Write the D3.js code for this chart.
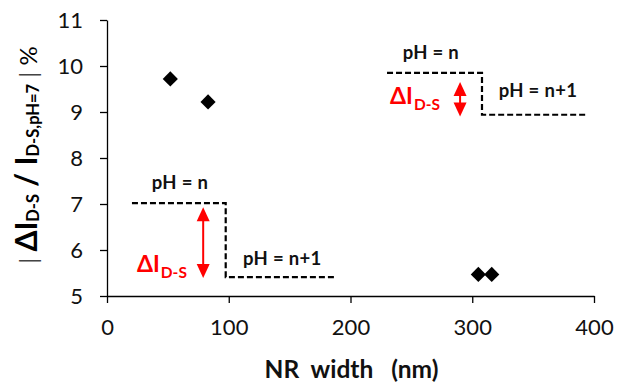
<!DOCTYPE html>
<html>
<head>
<meta charset="utf-8">
<script src="https://cdn.jsdelivr.net/npm/d3@7"></script>
<style>
  body { margin: 0; background: #fff; }
  text { font-family: Lato, "Open Sans", sans-serif; }
</style>
</head>
<body>
<div id="chart"></div>
<script>
// measured points (NR width nm, |dI/I| %)
const widths = [52, 83, 305, 316];
const changes = [9.72, 9.22, 5.47, 5.47];

const xTicks = [0, 100, 200, 300, 400];
const yTicks = [5, 6, 7, 8, 9, 10, 11];

// step sketches, in data units
const leftStep = [[20.5, 7.02], [97.5, 7.02], [97.5, 5.41], [188, 5.41]];
const rightStep = [[230, 9.85], [308, 9.85], [308, 8.94], [393, 8.94]];
const arrowX = [79, 290];
const arrowTop = [6.93, 9.65];
const arrowBottom = [5.39, 8.9];
const phLabels = ['pH = n', 'pH = n+1', 'pH = n', 'pH = n+1'];
const phX = [60, 144, 266, 354];
const phY = [7.33, 5.67, 10.15, 9.33];
const deltaX = [24.6, 232.5];
const deltaY = [5.52, 9.17];

const W = 639, H = 386;
const margin = {top: 20, left: 107, right: 45, bottom: 90};

const svg = d3.select('#chart').append('svg')
  .attr('width', W)
  .attr('height', H);

const x = d3.scaleLinear().domain([0, 400]).range([margin.left, W - margin.right]);
const y = d3.scaleLinear().domain([5, 11]).range([H - margin.bottom, margin.top]);

// axes
const xAxis = svg.append('g')
  .attr('transform', 'translate(0,' + y(5) + ')')
  .call(d3.axisBottom(x).tickValues(xTicks).tickFormat(d3.format('d')).tickSize(7).tickSizeOuter(0).tickPadding(16));
const yAxis = svg.append('g')
  .attr('transform', 'translate(' + x(0) + ',0)')
  .call(d3.axisLeft(y).tickValues(yTicks).tickFormat(d3.format('d')).tickSize(7).tickSizeOuter(0).tickPadding(17));
[xAxis, yAxis].forEach(function (a) {
  a.select('.domain').attr('stroke', '#000').attr('stroke-width', 1.3);
  a.selectAll('.tick line').attr('stroke', '#000').attr('stroke-width', 1.3);
  a.selectAll('.tick text')
    .style('font-size', '22px')
    .style('font-family', 'Lato, sans-serif')
    .attr('fill', '#111');
});

// points
svg.append('g').selectAll('path')
  .data(widths)
  .enter().append('path')
  .attr('d', d3.symbol().type(d3.symbolSquare).size(115))
  .attr('transform', function (d, i) {
    return 'translate(' + x(d) + ',' + y(changes[i]) + ') rotate(45)';
  })
  .attr('fill', '#000');

// dashed steps
const line = d3.line().x(function (d) { return x(d[0]); }).y(function (d) { return y(d[1]); });
svg.selectAll('.step')
  .data([leftStep, rightStep])
  .enter().append('path')
  .attr('class', 'step')
  .attr('d', line)
  .attr('fill', 'none')
  .attr('stroke', '#000')
  .attr('stroke-width', 2.2)
  .attr('stroke-dasharray', '6,3');

// red double arrows
const red = '#ff0000';
const headW = 6.5, headH = 14;
arrowX.forEach(function (ax, i) {
  const px = x(ax), top = y(arrowTop[i]), bot = y(arrowBottom[i]);
  svg.append('line')
    .attr('x1', px).attr('x2', px)
    .attr('y1', top + headH - 2).attr('y2', bot - headH + 2)
    .attr('stroke', red).attr('stroke-width', 2);
  svg.append('path')
    .attr('d', 'M' + px + ',' + top + 'L' + (px - headW) + ',' + (top + headH) + 'L' + (px + headW) + ',' + (top + headH) + 'Z')
    .attr('fill', red);
  svg.append('path')
    .attr('d', 'M' + px + ',' + bot + 'L' + (px - headW) + ',' + (bot - headH) + 'L' + (px + headW) + ',' + (bot - headH) + 'Z')
    .attr('fill', red);
});

// pH labels
svg.selectAll('.ph')
  .data(phLabels)
  .enter().append('text')
  .attr('class', 'ph')
  .attr('x', function (d, i) { return x(phX[i]); })
  .attr('y', function (d, i) { return y(phY[i]); })
  .attr('text-anchor', 'middle')
  .style('font-size', '18.5px')
  .style('font-weight', 'bold')
  .style('letter-spacing', '0.3px')
  .attr('fill', '#111')
  .text(function (d) { return d; });

// delta I labels
deltaX.forEach(function (dx, i) {
  const t = svg.append('text')
    .attr('x', x(dx))
    .attr('y', y(deltaY[i]))
    .attr('fill', red)
    .style('font-weight', 'bold');
  t.append('tspan').style('font-size', '23px').text('ΔI');
  t.append('tspan').style('font-size', '15.5px').attr('dx', 1).attr('dy', 6).text('D-S');
});

// axis titles
svg.append('text')
  .attr('x', (x(0) + x(400)) / 2 + 1)
  .attr('y', 378)
  .attr('text-anchor', 'middle')
  .style('font-size', '24.5px')
  .style('font-weight', 'bold')
  .attr('fill', '#111')
  .attr('xml:space', 'preserve')
  .text('NR  width   (nm)');

const yl = svg.append('text')
  .attr('transform', 'translate(37,155) rotate(-90)')
  .attr('text-anchor', 'middle')
  .style('font-weight', 'bold')
  .attr('fill', '#000')
  .attr('xml:space', 'preserve');
yl.append('tspan').style('font-size', '24px').style('font-weight', 'normal').attr('fill', '#444').text('| ');
yl.append('tspan').style('font-size', '30px').text('ΔI');
yl.append('tspan').style('font-size', '16.5px').attr('dy', 2).text('D-S');
yl.append('tspan').style('font-size', '30px').attr('dy', -2).text(' / I');
yl.append('tspan').style('font-size', '16.5px').attr('dy', 2).text('D-S,pH=7');
yl.append('tspan').style('font-size', '24px').attr('dy', -2).style('font-weight', 'normal').attr('fill', '#444').text(' | ');
yl.append('tspan').style('font-size', '24px').style('font-weight', 'normal').text('%');
</script>
</body>
</html>
